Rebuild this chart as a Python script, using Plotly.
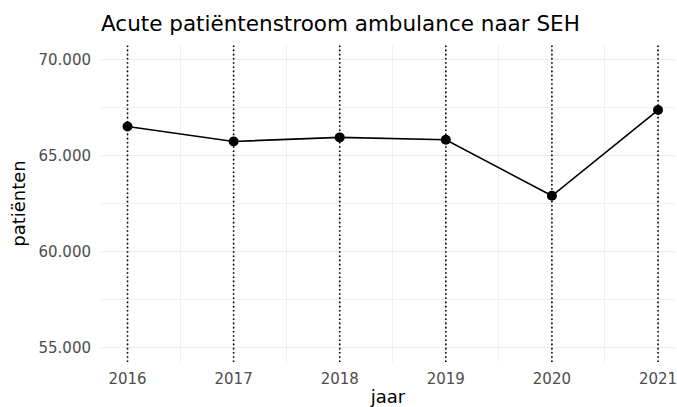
import plotly.graph_objects as go

years = [2016, 2017, 2018, 2019, 2020, 2021]
patienten = [66510, 65730, 65940, 65820, 62900, 67365]
y_ticks = [55000, 60000, 65000, 70000]

fig = go.Figure()
for yr in years:
    fig.add_vline(x=yr, line=dict(color="black", width=1.6, dash="1.6px,2.6px"), layer="above")

fig.add_trace(go.Scatter(
    x=years, y=patienten, mode="lines+markers",
    line=dict(color="black", width=1.6),
    marker=dict(color="black", size=10),
    showlegend=False,
))

font_family = "DejaVu Sans"
fig.update_layout(
    width=677, height=407,
    margin=dict(l=101, r=0, t=45, b=45),
    paper_bgcolor="white", plot_bgcolor="white",
    separators=",.",
    title=dict(text="Acute patiëntenstroom ambulance naar SEH", x=101/677, xanchor="left",
               y=1 - 23/407, yanchor="middle",
               font=dict(family=font_family, size=21.5, color="black")),
    font=dict(family=font_family),
    xaxis=dict(
        range=[2015.75, 2021.16], tickvals=years, ticktext=[str(y) for y in years],
        showgrid=True, gridcolor="#EBEBEB", gridwidth=1.1, zeroline=False,
        showline=False, ticks="outside", ticklen=3, tickcolor="rgba(0,0,0,0)",
        tickfont=dict(size=15, color="#4D4D4D"),
        ticklabeloverflow="allow",
        minor=dict(tickvals=[y + 0.5 for y in [2015] + years], showgrid=True, gridcolor="#F0F0F0", gridwidth=0.8),
        title=dict(text="jaar", font=dict(size=18, color="black"), standoff=6),
    ),
    yaxis=dict(
        range=[54250, 70750], tickvals=y_ticks, tickformat=",d",
        showgrid=True, gridcolor="#EBEBEB", gridwidth=1.1, zeroline=False,
        showline=False, ticks="outside", ticklen=6, tickcolor="rgba(0,0,0,0)",
        tickfont=dict(size=15, color="#4D4D4D"),
        minor=dict(tickvals=[57500, 62500, 67500], showgrid=True, gridcolor="#F0F0F0", gridwidth=0.8),
        title=dict(text="patiënten", font=dict(size=18, color="black"), standoff=8),
    ),
)

fig.write_html("out.html", config={"displayModeBar": False},
               post_script="document.body.style.margin='0';")
